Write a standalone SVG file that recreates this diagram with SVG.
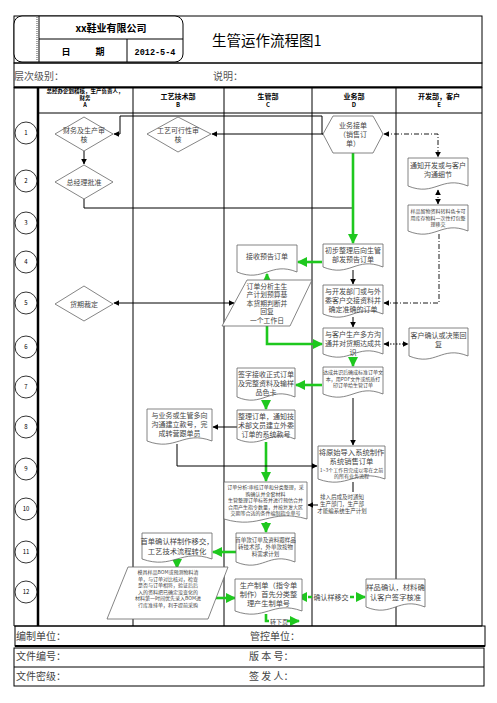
<svg xmlns="http://www.w3.org/2000/svg" width="497" height="703" viewBox="0 0 497 703">
<style>
text{font-family:"Noto Sans CJK SC","Liberation Sans",sans-serif;fill:#444;}
.t7{font-size:7px;text-anchor:middle;}
.t5{font-size:5px;text-anchor:middle;}
.hd{font-size:7px;font-weight:bold;text-anchor:middle;fill:#000;}
.shape{fill:#fff;stroke:#666;stroke-width:0.8;}
.grid{stroke:#000;stroke-width:1;fill:none;}
.blk{stroke:#000;stroke-width:1;fill:none;}
.grn{stroke:#1ec81e;stroke-width:2.6;fill:none;}
.dd{stroke:#000;stroke-width:0.9;fill:none;stroke-dasharray:5 2 1 2;}
.circ{fill:#fff;stroke:#000;stroke-width:0.8;}
.num{font-size:6px;text-anchor:middle;fill:#000;}
.foot{font-size:10px;fill:#444;}
</style>
<defs>
<marker id="ab" viewBox="0 0 10 10" refX="9" refY="5" markerWidth="6" markerHeight="6" markerUnits="userSpaceOnUse" orient="auto-start-reverse"><path d="M0,0 L10,5 L0,10 Z" fill="#000"/></marker>
<marker id="ag" viewBox="0 0 10 10" refX="9" refY="5" markerWidth="10" markerHeight="10" markerUnits="userSpaceOnUse" orient="auto-start-reverse"><path d="M0,0 L10,5 L0,10 Z" fill="#1ec81e"/></marker>
</defs>

<!-- header -->
<g id="header">
<rect x="14" y="16" width="468" height="47" fill="none" stroke="#000" stroke-width="1"/>
<rect x="14" y="16" width="169" height="46" rx="8" fill="#fff" stroke="#000" stroke-width="1"/>
<line x1="37" y1="17" x2="37" y2="61" stroke="#000" stroke-width="0.7" stroke-dasharray="1 1"/>
<line x1="39" y1="16" x2="39" y2="62" stroke="#000"/>
<line x1="39" y1="39" x2="183" y2="39" stroke="#000"/>
<line x1="127" y1="39" x2="127" y2="62" stroke="#000"/>
<text x="111" y="32" style="font-size:10px;font-weight:bold;text-anchor:middle;fill:#000">xx鞋业有限公司</text>
<text x="66" y="55" style="font-size:9px;font-weight:bold;text-anchor:middle;fill:#000">日</text>
<text x="100" y="55" style="font-size:9px;font-weight:bold;text-anchor:middle;fill:#000">期</text>
<text x="155" y="55" style="font-size:8.5px;font-weight:bold;text-anchor:middle;fill:#000;font-family:'Liberation Mono',monospace">2012-5-4</text>
<text x="212" y="46" style="font-size:14.5px;fill:#000">生管运作流程图1</text>
<rect x="14" y="63" width="468" height="24" fill="none" stroke="#000" stroke-width="1"/>
<text x="14" y="80" style="font-size:10px;fill:#555">层次级别：</text>
<text x="213" y="80" style="font-size:10px;fill:#555">说明：</text>
</g>

<!-- table -->
<g id="table">
<line x1="14" y1="87.5" x2="482" y2="87.5" stroke="#000" stroke-width="2"/>
<line x1="38" y1="113" x2="482" y2="113" class="grid"/>
<line x1="14" y1="87" x2="14" y2="626" class="grid"/>
<line x1="38" y1="87" x2="38" y2="626" stroke="#000" stroke-width="2.5"/>
<line x1="133" y1="87" x2="133" y2="626" class="grid"/>
<line x1="224" y1="87" x2="224" y2="626" class="grid"/>
<line x1="312" y1="87" x2="312" y2="626" class="grid"/>
<line x1="396" y1="87" x2="396" y2="626" class="grid"/>
<line x1="482" y1="87" x2="482" y2="626" class="grid"/>
<line x1="14" y1="626" x2="482" y2="626" class="grid"/>
<text x="85" y="93" class="hd" style="font-size:5.5px">总经办企划稽核，生产负责人，</text>
<text x="85" y="100" class="hd" style="font-size:5.5px">财务</text>
<text x="85" y="107" class="hd" style="font-size:5.5px">A</text>
<text x="178" y="99" class="hd">工艺技术部</text>
<text x="178" y="107" class="hd" style="font-size:6px">B</text>
<text x="268" y="99" class="hd">生管部</text>
<text x="268" y="107" class="hd" style="font-size:6px">C</text>
<text x="354" y="99" class="hd">业务部</text>
<text x="354" y="107" class="hd" style="font-size:6px">D</text>
<text x="439" y="99" class="hd">开发部，客户</text>
<text x="439" y="107" class="hd" style="font-size:6px">E</text>
</g>

<!-- row numbers -->
<g id="rows">
<circle cx="26" cy="133" r="11" class="circ"/><text x="26" y="135" class="num">1</text>
<circle cx="26" cy="181" r="11" class="circ"/><text x="26" y="183" class="num">2</text>
<circle cx="26" cy="223" r="11" class="circ"/><text x="26" y="225" class="num">3</text>
<circle cx="26" cy="262" r="11" class="circ"/><text x="26" y="264" class="num">4</text>
<circle cx="26" cy="303" r="11" class="circ"/><text x="26" y="305" class="num">5</text>
<circle cx="26" cy="347" r="11" class="circ"/><text x="26" y="349" class="num">6</text>
<circle cx="26" cy="387" r="11" class="circ"/><text x="26" y="389" class="num">7</text>
<circle cx="26" cy="427" r="11" class="circ"/><text x="26" y="429" class="num">8</text>
<circle cx="26" cy="469" r="11" class="circ"/><text x="26" y="471" class="num">9</text>
<circle cx="26" cy="509" r="11" class="circ"/><text x="26" y="511" class="num">10</text>
<circle cx="26" cy="552" r="11" class="circ"/><text x="26" y="554" class="num">11</text>
<circle cx="26" cy="592" r="11" class="circ"/><text x="26" y="594" class="num">12</text>
</g>

<!-- connectors -->
<g id="connectors">
<path d="M323,134 H322 V116 H120 V134 H114" class="blk" marker-end="url(#ab)"/>
<path d="M323,134 H212" class="blk" marker-end="url(#ab)"/>
<path d="M84,151 V164" class="blk" marker-end="url(#ab)"/>
<path d="M84,199 V208 H353" class="blk"/>
<path d="M353,153 V243" class="grn" marker-end="url(#ag)"/>
<path d="M384,134 H438 V157" class="dd" marker-start="url(#ab)" marker-end="url(#ab)"/>
<path d="M438,190 V204" class="dd" marker-start="url(#ab)" marker-end="url(#ab)"/>
<path d="M439,234 V303 H384" class="dd" marker-end="url(#ab)"/>
<path d="M322,262 H298" class="grn" marker-end="url(#ag)"/>
<path d="M353,270 V284" class="blk" marker-end="url(#ab)"/>
<path d="M353,317 V327" class="blk" marker-end="url(#ab)"/>
<path d="M267,281 V274" class="grn" marker-end="url(#ag)"/>
<path d="M114,303 H234" class="blk" stroke-width="1.2" marker-start="url(#ab)" marker-end="url(#ab)"/>
<path d="M267,326 V344 H322" class="grn" marker-end="url(#ag)"/>
<path d="M384,344 H408" class="blk" stroke-dasharray="1.5 1.5" marker-start="url(#ab)" marker-end="url(#ab)"/>
<path d="M353,358 V366" class="grn" marker-end="url(#ag)"/>
<path d="M322,385 H296" class="grn" marker-end="url(#ag)"/>
<path d="M266,400 V409" class="grn" marker-end="url(#ag)"/>
<path d="M353,398 V445" class="blk" marker-end="url(#ab)"/>
<path d="M237,427 H213" class="blk" marker-end="url(#ab)"/>
<path d="M266,442 V481" class="grn" marker-end="url(#ag)"/>
<path d="M177,444 V466 H317" class="blk" marker-end="url(#ab)"/>
<path d="M353,482 V492" class="blk"/>
<path d="M318,505 H308" class="blk" marker-end="url(#ab)"/>
<path d="M266,522 V532" class="grn" marker-end="url(#ag)"/>
<path d="M236,552 H213" class="grn" marker-end="url(#ag)"/>
<path d="M177,562 V568" class="grn" marker-end="url(#ag)"/>
<path d="M216,598 H235" class="grn" marker-end="url(#ag)"/>
<path d="M312,597 H298" class="grn" stroke-dasharray="4 2" marker-end="url(#ag)"/>
<path d="M350,597 H365" class="grn" stroke-dasharray="4 2" marker-end="url(#ag)"/>
<text x="331" y="599.5" style="font-size:7px;text-anchor:middle">确认样移交</text>
<path d="M266,614 V621 H269" class="grn"/>
<text x="270" y="624" style="font-size:6px">转下页</text>
<path d="M287,621 H299" class="grn" marker-end="url(#ag)"/>
</g>

<!-- column A -->
<g id="A1"><polygon points="55,134 84,117 113,134 84,151" class="shape"/><text x="84" y="133" class="t7">财务及生产审</text><text x="84" y="141.5" class="t7">核</text></g>
<g id="A2"><polygon points="55,182 84,165 113,182 84,199" class="shape"/><text x="84" y="184.5" class="t7">总经理批准</text></g>
<g id="A5"><polygon points="55,304 84,286 113,304 84,321" class="shape"/><text x="84" y="306.5" class="t7">货期裁定</text></g>

<!-- column B -->
<g id="B1"><polygon points="147,134 178,117 211,134 178,152" class="shape"/><text x="178" y="133" class="t7">工艺可行性审</text><text x="178" y="141.5" class="t7">核</text></g>
<g id="B8"><path d="M147,409 H212 V441 C183,430 176,452 147,441 Z" class="shape"/><text x="179.5" y="418" class="t7">与业务或生管多向</text><text x="179.5" y="427" class="t7">沟通建立款号，完</text><text x="179.5" y="436" class="t7">成转营跟单员</text></g>
<g id="B11"><path d="M142,533 H212 V559 C181,548 173,570 142,559 Z" class="shape"/><text x="177" y="544" class="t7" style="font-size:7.3px">首单确认样制作移交，</text><text x="177" y="553.5" class="t7" style="font-size:7.3px">工艺技术流程转化</text></g>
<g id="B12"><polygon points="128,567 228,567 208,619 107,619" class="shape"/>
<text x="168" y="574" class="t5">模具样品BOM或预测物料清</text>
<text x="168" y="580.5" class="t5">单，与订单对比核对，检查</text>
<text x="168" y="587" class="t5">是否与订单相符，验证后后</text>
<text x="168" y="593.5" class="t5">入的资料把已确定没变化的</text>
<text x="168" y="600" class="t5">材料第一时间优先录入BOM进</text>
<text x="168" y="606.5" class="t5">行库准排单，利于提前采购</text></g>

<!-- column C -->
<g id="C4"><path d="M237,245 H297 V272 C270,261 264,283 237,272 Z" class="shape"/><text x="267" y="259" class="t7">接收预告订单</text></g>
<g id="C5"><polygon points="247,280 312,280 290,326 222,326" class="shape"/>
<text x="267" y="288.5" class="t7" style="font-size:6.8px">订单分析主生</text>
<text x="267" y="297" class="t7" style="font-size:6.8px">产计划预算基</text>
<text x="267" y="305.5" class="t7" style="font-size:6.8px">本货期判断并</text>
<text x="267" y="314" class="t7" style="font-size:6.8px">回复</text>
<text x="267" y="322.5" class="t7" style="font-size:6.8px">一个工作日</text></g>
<g id="C7"><path d="M237,368 H295 V397 C269,386 263,408 237,397 Z" class="shape"/><text x="266" y="377" class="t7">签字接收正式订单</text><text x="266" y="386" class="t7">及完整资料及输样</text><text x="266" y="395" class="t7">品色卡</text></g>
<g id="C8"><path d="M237,410 H295 V439 C269,428 263,450 237,439 Z" class="shape"/><text x="266" y="419" class="t7">整理订单，通知技</text><text x="266" y="428" class="t7">术部文员建立外委</text><text x="266" y="437" class="t7">订单的系统款号</text></g>
<g id="C10"><path d="M224,482 H307 V519 C270,508 261,530 224,519 Z" class="shape"/>
<text x="265.5" y="489" class="t5">订单分析:审核订单和分类整理，采</text>
<text x="265.5" y="495.5" class="t5">购确认并全套材料</text>
<text x="265.5" y="502" class="t5">生管整理订单标签并进行预估合并</text>
<text x="265.5" y="508.5" class="t5">合用产生指令数量，并按复发大区</text>
<text x="265.5" y="515" class="t5">交期等合适的条件编制指令单号</text></g>
<g id="C11"><path d="M236,533 H295 V562 C268,551 263,573 236,562 Z" class="shape"/><text x="265.5" y="542" class="t5" style="font-size:5.5px">首单款订单及资料跟样品</text><text x="265.5" y="549" class="t5" style="font-size:5.5px">转技术部，外单款按物</text><text x="265.5" y="556" class="t5" style="font-size:5.5px">料需求计划</text></g>
<g id="C12"><path d="M235,579 H302 V611 C272,600 265,622 235,611 Z" class="shape"/><text x="268.5" y="588" class="t7" style="font-size:7.2px">生产制单（指令单</text><text x="268.5" y="597" class="t7" style="font-size:7.2px">制作）首先分类整</text><text x="268.5" y="606" class="t7" style="font-size:7.2px">理产生制单号</text></g>

<!-- column D -->
<g id="D1"><polygon points="323,134 333,116 373,116 383,134 373,153 333,153" class="shape"/><text x="353" y="128" class="t7">业务接单</text><text x="353" y="137" class="t7">（销售订</text><text x="353" y="146" class="t7">单）</text></g>
<g id="D4"><path d="M323,244 H383 V267 C356,256 350,278 323,267 Z" class="shape"/><text x="353" y="253" class="t7">初步整理后向生管</text><text x="353" y="262" class="t7">部发预告订单</text></g>
<g id="D5"><path d="M323,285 H383 V314 C356,303 350,325 323,314 Z" class="shape"/><text x="353" y="294" class="t7">与开发部门或与外</text><text x="353" y="303" class="t7">委客户交接资料并</text><text x="353" y="312" class="t7">确定准确的订单</text></g>
<g id="D6"><path d="M323,328 H383 V354 C356,343 350,365 323,354 Z" class="shape"/><text x="353" y="337" class="t7">与客户生产多方沟</text><text x="353" y="346" class="t7">通并对货期达成共</text><text x="353" y="355" class="t7">识</text></g>
<g id="D7"><path d="M323,367 H383 V394 C356,383 350,405 323,394 Z" class="shape"/><text x="353" y="374" class="t5">达成共识后确成标准订单文</text><text x="353" y="380.5" class="t5">本，用PDF文件或纸质打</text><text x="353" y="387" class="t5">印订单给生管订单</text></g>
<g id="D9"><path d="M318,446 H385 V479 C355,468 348,490 318,479 Z" class="shape"/><text x="351.5" y="455" class="t7" style="font-size:7.3px">将原始导入系统制作</text><text x="351.5" y="464" class="t7" style="font-size:7.3px">系统销售订单</text><text x="351.5" y="471.5" class="t5">1~3个工作日完成以零在之前</text><text x="351.5" y="477.5" class="t5">的所有业务流程</text></g>
<g id="D10"><text x="342" y="499" class="t5" style="font-size:5.5px">排入后成及时通知</text><text x="342" y="506" class="t5" style="font-size:5.5px">生产部门，生产部</text><text x="342" y="513" class="t5" style="font-size:5.5px">才能编系统生产计划</text></g>

<!-- column E -->
<g id="E2"><path d="M408,158 H468 V186 C441,175 435,197 408,186 Z" class="shape"/><text x="438" y="168" class="t7">通知开发或与客户</text><text x="438" y="177" class="t7">沟通细节</text></g>
<g id="E3"><path d="M408,205 H468 V231 C441,220 435,242 408,231 Z" class="shape"/><text x="438" y="213" class="t5">样品留物资料转料色卡可</text><text x="438" y="219.5" class="t5">用库存物料一次性打包整</text><text x="438" y="226" class="t5">理移交</text></g>
<g id="E6"><path d="M409,328 H468 V356 C441,345 436,367 409,356 Z" class="shape"/><text x="438.5" y="338" class="t7">客户确认或决策回</text><text x="438.5" y="347" class="t7">复</text></g>
<g id="E12"><path d="M366,579 H425 V607 C398,596 393,618 366,607 Z" class="shape"/><text x="395.5" y="590" class="t7" style="font-size:7.3px">样品确认，材料确</text><text x="395.5" y="599.5" class="t7" style="font-size:7.3px">认客户签字核准</text></g>

<!-- footer -->
<g id="footer">
<rect x="15" y="626" width="470" height="20" fill="none" stroke="#000" stroke-width="1"/>
<line x1="15" y1="646" x2="485" y2="646" stroke="#000" stroke-width="2"/>
<text x="16" y="640" class="foot">编制单位：</text>
<text x="250" y="640" class="foot">管控单位：</text>
<rect x="14" y="648" width="470" height="38" fill="none" stroke="#000" stroke-width="1"/>
<line x1="14" y1="667" x2="484" y2="667" stroke="#000" stroke-width="1"/>
<text x="16" y="660" class="foot">文件编号：</text>
<text x="249" y="660" class="foot">版 本 号：</text>
<text x="16" y="680" class="foot">文件密级：</text>
<text x="249" y="680" class="foot">签 发 人：</text>
</g>
</svg>
